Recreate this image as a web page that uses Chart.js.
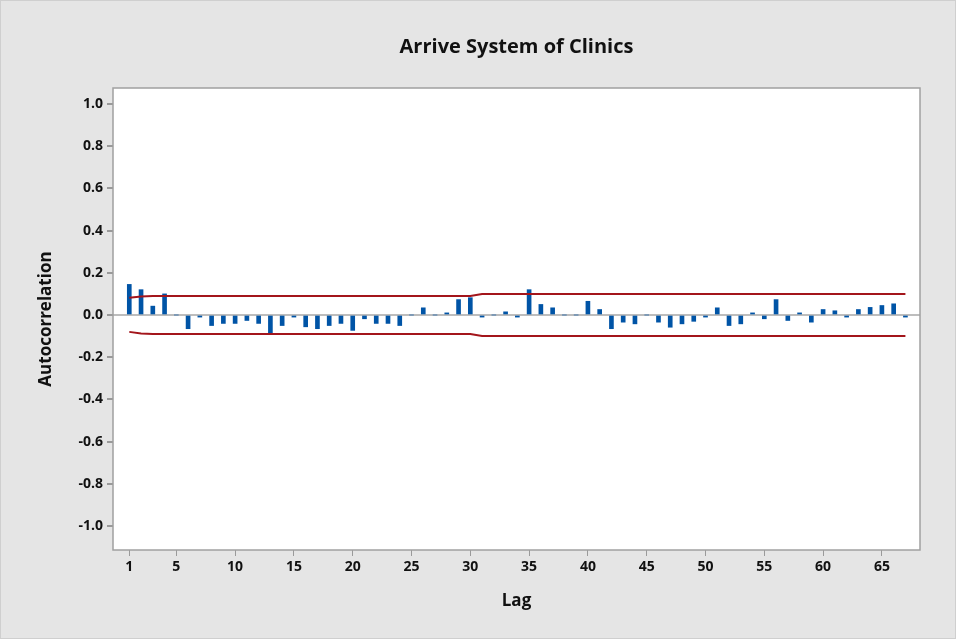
<!DOCTYPE html>
<html>
<head>
<meta charset="utf-8">
<title>Arrive System of Clinics</title>
<script src="https://cdn.jsdelivr.net/npm/chart.js@4.4.1/dist/chart.umd.min.js"></script>
<style>
  html, body { margin: 0; padding: 0; background: #e5e5e5; }
  #chart-container { width: 956px; height: 639px; }
</style>
</head>
<body>
<div id="chart-container"><canvas id="acfChart"></canvas></div>
<script>
// ラグ（1〜67）
const lags = [
  1, 2, 3, 4, 5, 6, 7, 8, 9, 10,
  11, 12, 13, 14, 15, 16, 17, 18, 19, 20,
  21, 22, 23, 24, 25, 26, 27, 28, 29, 30,
  31, 32, 33, 34, 35, 36, 37, 38, 39, 40,
  41, 42, 43, 44, 45, 46, 47, 48, 49, 50,
  51, 52, 53, 54, 55, 56, 57, 58, 59, 60,
  61, 62, 63, 64, 65, 66, 67
];

// 自己相関の値
const acfValues = [
  0.145, 0.12, 0.042, 0.10, 0.0, -0.065, -0.01, -0.05, -0.04, -0.04,
  -0.026, -0.04, -0.085, -0.05, -0.01, -0.056, -0.065, -0.05, -0.04, -0.073,
  -0.018, -0.04, -0.04, -0.05, 0.0, 0.034, 0.0, 0.01, 0.073, 0.082,
  -0.01, 0.0, 0.015, -0.01, 0.12, 0.05, 0.034, 0.0, 0.0, 0.065,
  0.026, -0.065, -0.034, -0.042, 0.0, -0.034, -0.058, -0.042, -0.03, -0.01,
  0.034, -0.05, -0.042, 0.01, -0.018, 0.073, -0.026, 0.01, -0.034, 0.026,
  0.02, -0.01, 0.026, 0.036, 0.045, 0.053, -0.01
];

// 有意限界（折れ線の頂点）
const limitLags = [1, 2, 3, 30, 31, 67];
const upperLimit = [0.082, 0.088, 0.09, 0.09, 0.10, 0.10];
const lowerLimit = [-0.08, -0.088, -0.09, -0.09, -0.10, -0.10];

// 目盛り
const xTickValues = [1, 5, 10, 15, 20, 25, 30, 35, 40, 45, 50, 55, 60, 65];
const yTickValues = [-1.0, -0.8, -0.6, -0.4, -0.2, 0.0, 0.2, 0.4, 0.6, 0.8, 1.0];

const FONT = "'Open Sans', 'Noto Sans', sans-serif";

// 背景とプロット枠
const framePlugin = {
  id: 'frame',
  beforeDraw(chart) {
    const { ctx, chartArea: a, width, height } = chart;
    ctx.save();
    ctx.fillStyle = '#e5e5e5';
    ctx.fillRect(0, 0, width, height);
    ctx.strokeStyle = '#cfcfcf';
    ctx.lineWidth = 1;
    ctx.strokeRect(0.5, 0.5, width - 1, height - 1);
    ctx.fillStyle = '#ffffff';
    ctx.fillRect(a.left, a.top, a.right - a.left, a.bottom - a.top);
    ctx.restore();
  },
  afterDraw(chart) {
    const { ctx, chartArea: a } = chart;
    ctx.save();
    ctx.strokeStyle = '#a0a0a0';
    ctx.lineWidth = 1.5;
    ctx.strokeRect(a.left, a.top, a.right - a.left, a.bottom - a.top);
    ctx.restore();
  }
};

const ctx = document.getElementById('acfChart');
new Chart(ctx, {
  type: 'bar',
  data: {
    datasets: [
      {
        type: 'line',
        label: 'upper',
        data: limitLags.map((l, i) => ({ x: l, y: upperLimit[i] })),
        borderColor: '#a3151b',
        borderWidth: 2,
        pointRadius: 0,
        fill: false,
        tension: 0
      },
      {
        type: 'line',
        label: 'lower',
        data: limitLags.map((l, i) => ({ x: l, y: lowerLimit[i] })),
        borderColor: '#a3151b',
        borderWidth: 2,
        pointRadius: 0,
        fill: false,
        tension: 0
      },
      {
        type: 'bar',
        label: 'ACF',
        data: lags.map((l, i) => ({ x: l, y: acfValues[i] })),
        backgroundColor: '#0054a6',
        borderWidth: 0,
        barThickness: 4
      }
    ]
  },
  options: {
    responsive: true,
    maintainAspectRatio: false,
    animation: false,
    layout: {
      padding: { left: 0, right: 36, top: 0, bottom: 0 }
    },
    plugins: {
      legend: { display: false },
      tooltip: { enabled: false },
      title: {
        display: true,
        text: 'Arrive System of Clinics',
        fullSize: false,
        color: '#111111',
        font: { family: FONT, size: 20, weight: 'bold' },
        padding: { top: 35, bottom: 29 }
      }
    },
    scales: {
      x: {
        type: 'linear',
        offset: false,
        min: -0.385,
        max: 68.24,
        afterBuildTicks: (scale) => {
          scale.ticks = xTickValues.map(v => ({ value: v }));
        },
        afterFit: (scale) => { scale.height = 89; },
        grid: {
          offset: false,
          drawOnChartArea: false,
          drawTicks: true,
          tickLength: 6,
          tickColor: '#9a9a9a'
        },
        border: { display: false },
        ticks: {
          color: '#111111',
          font: { family: FONT, size: 14, weight: 'bold' },
          padding: 3,
          maxRotation: 0,
          autoSkip: false
        },
        title: {
          display: true,
          text: 'Lag',
          color: '#111111',
          font: { family: FONT, size: 17, weight: 'bold' },
          padding: { top: 0, bottom: 28 }
        }
      },
      y: {
        min: -1.114,
        max: 1.076,
        afterBuildTicks: (scale) => {
          scale.ticks = yTickValues.map(v => ({ value: v }));
        },
        afterFit: (scale) => { scale.width = 113; },
        grid: {
          drawTicks: true,
          tickLength: 6,
          tickColor: '#9a9a9a',
          lineWidth: 2,
          color: (c) => (c.tick && c.tick.value === 0 ? '#bdbdbd' : 'rgba(0,0,0,0)')
        },
        border: { display: false },
        ticks: {
          color: '#111111',
          font: { family: FONT, size: 14, weight: 'bold' },
          padding: 4,
          callback: (v) => Number(v).toFixed(1)
        },
        title: {
          display: true,
          text: 'Autocorrelation',
          color: '#111111',
          font: { family: FONT, size: 17, weight: 'bold' },
          padding: { top: 36, bottom: 0 }
        }
      }
    }
  },
  plugins: [framePlugin]
});
</script>
</body>
</html>
